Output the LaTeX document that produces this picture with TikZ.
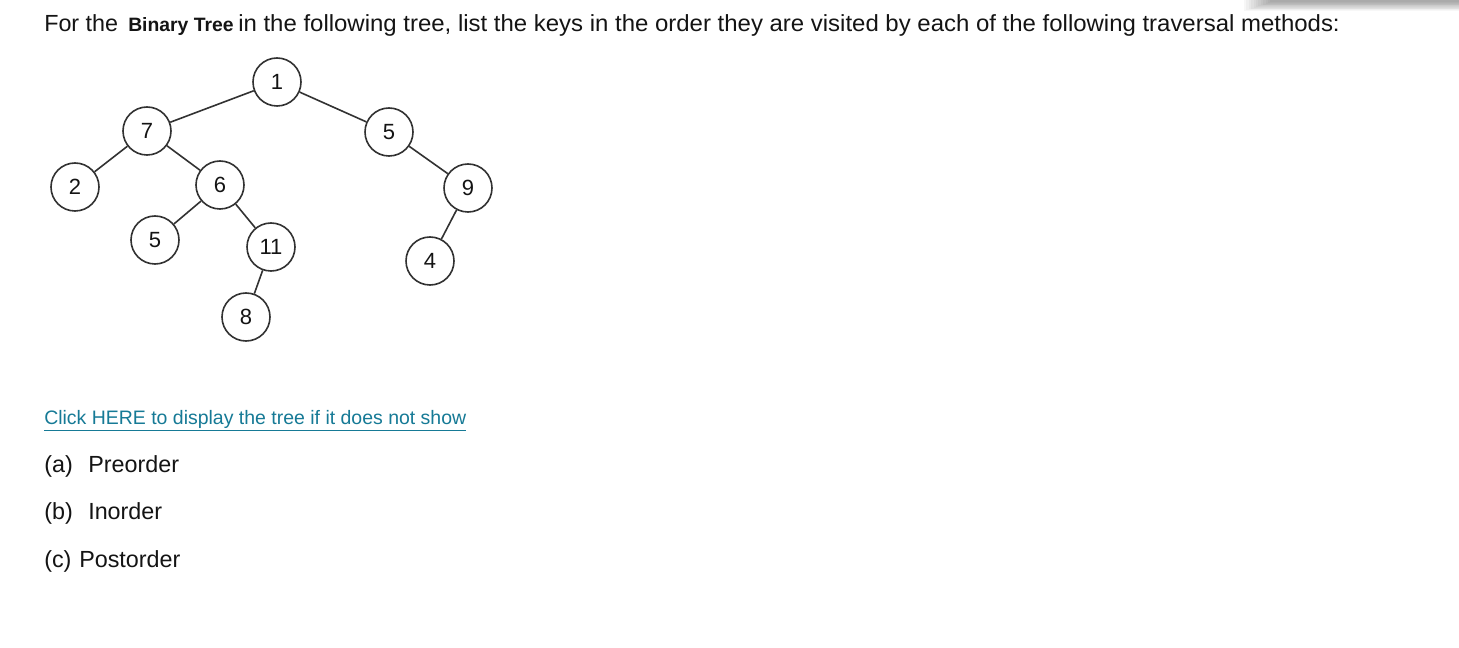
\documentclass[tikz,border=0pt]{standalone}
\usepackage{fontspec}
\setmainfont{Liberation Sans}
\definecolor{linkcol}{RGB}{22,122,150}
\definecolor{txt}{RGB}{20,20,20}
\definecolor{circ}{RGB}{50,50,50}
\tikzset{
  tn/.style={circle, draw=circ, line width=1.2pt, minimum size=36pt, inner sep=0pt, font=\fontsize{16.5}{16.5}\selectfont, text=txt},
  edge/.style={draw=circ, line width=1.2pt},
  bodytext/.style={anchor=base west, inner sep=0pt, font=\fontsize{17.5}{17.5}\selectfont, text=txt},
  linktext/.style={anchor=base west, inner sep=0pt, font=\fontsize{14.6}{14.6}\selectfont, text=linkcol}
}
\begin{document}
\begin{tikzpicture}[x=0.75pt,y=-0.75pt]
\useasboundingbox (0,0) rectangle (1459,648);
\fill[white] (0,0) rectangle (1459,648);
% shadow bar top right
\foreach \i in {0,...,11}{
  \fill[black, opacity=0.03] (1244+2.4*\i,0) rectangle (1459,11-0.8*\i);
}
% heading
\node[bodytext] (h1) at (44,32) {For the};
\node[bodytext, font=\fontsize{14.5}{14.5}\selectfont\bfseries] (h2) at (128,32) {Binary Tree};
\node[bodytext] (h3) at (238,32) {\scalebox{1.027}[1]{in the following tree, list the keys in the order they are visited by each of the following traversal methods:}};
% tree
\node[tn] (n1) at (277,82) {1};
\node[tn] (n7) at (147,131) {7};
\node[tn] (n5r) at (389,132) {5};
\node[tn] (n2) at (75,187) {2};
\node[tn] (n6) at (220,185) {6};
\node[tn] (n9) at (468,188) {9};
\node[tn] (n5l) at (155,240) {5};
\node[tn] (n11) at (271,247) {11};
\node[tn] (n4) at (430,261) {4};
\node[tn] (n8) at (246,317) {8};
\draw[edge] (n1) -- (n7);
\draw[edge] (n1) -- (n5r);
\draw[edge] (n7) -- (n2);
\draw[edge] (n7) -- (n6);
\draw[edge] (n6) -- (n5l);
\draw[edge] (n6) -- (n11);
\draw[edge] (n11) -- (n8);
\draw[edge] (n5r) -- (n9);
\draw[edge] (n9) -- (n4);
% link
\node[linktext] (lnk) at (44,424) {\underline{Click HERE to display the tree if it does not show}};
% items
\node[bodytext] (a1) at (44,472) {(a)};
\node[bodytext] (a2) at (88,472) {Preorder};
\node[bodytext] (b1) at (44,519) {(b)};
\node[bodytext] (b2) at (88,519) {Inorder};
\node[bodytext] (c1) at (44,567) {(c)};
\node[bodytext] (c2) at (79,567) {Postorder};
\end{tikzpicture}
\end{document}
